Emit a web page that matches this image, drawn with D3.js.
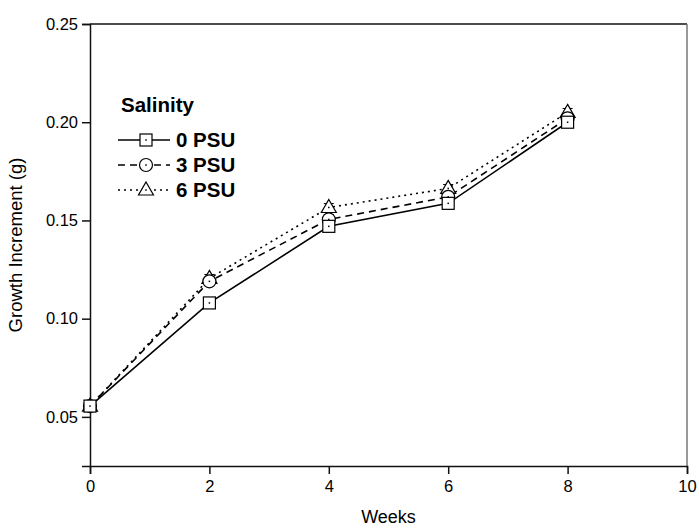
<!DOCTYPE html>
<html><head><meta charset="utf-8">
<script src="https://cdn.jsdelivr.net/npm/d3@7"></script>
<style>body{margin:0;background:#fff}svg{display:block}text{font-family:"Liberation Sans",Arial,sans-serif}</style>
</head><body><svg id="c" width="699" height="528"></svg>
<script>
const weeks = [0, 2, 4, 6, 8];
const psu0 = [0.0555, 0.108, 0.147, 0.1587, 0.200];
const psu3 = [0.0555, 0.119, 0.1505, 0.162, 0.202];
const psu6 = [0.0555, 0.1205, 0.1566, 0.1663, 0.205];
const err0 = [0.001, 0.001, 0.0015, 0.0015, 0.0015];
const err3 = [0.001, 0.002, 0.0025, 0.002, 0.002];
const err6 = [0.001, 0.002, 0.002, 0.002, 0.002];
const seriesNames = ["0 PSU", "3 PSU", "6 PSU"];
const xTicks = [0, 2, 4, 6, 8, 10];
const yTicks = [0.05, 0.10, 0.15, 0.20, 0.25];

const svg = d3.select("#c");
const L = 90, R = 687, T = 24, B = 466;
const x = d3.scaleLinear().domain([0, 10]).range([L, R]);
const y = d3.scaleLinear().domain([0.025, 0.25]).range([B, T]);

// frame
svg.append("line").attr("x1", L).attr("x2", R).attr("y1", T).attr("y2", T).attr("stroke", "#111").attr("stroke-width", 1.5);
svg.append("line").attr("x1", R).attr("x2", R).attr("y1", T).attr("y2", B).attr("stroke", "#777").attr("stroke-width", 1.5);

// x axis
const gx = svg.append("g").attr("transform", `translate(0,${B})`);
gx.call(d3.axisBottom(x).tickValues(d3.range(0, 10.01, 1)).tickSize(5).tickFormat(""));
gx.call(d3.axisBottom(x).tickValues(xTicks).tickSize(8).tickPadding(6).tickFormat(d3.format("d")));
gx.selectAll("path.domain").attr("stroke", "#111").attr("stroke-width", 1.5);
gx.selectAll("line").attr("stroke", "#111").attr("stroke-width", 1.5);
gx.attr("font-size", 16.5).attr("font-family", null);
gx.selectAll("text").attr("font-size", 16.5).attr("fill", "#000");

// y axis
const gy = svg.append("g").attr("transform", `translate(${L},0)`);
gy.call(d3.axisLeft(y).tickValues(d3.range(0.025, 0.2501, 0.025)).tickSize(4).tickFormat(""));
gy.call(d3.axisLeft(y).tickValues(yTicks).tickSize(8).tickPadding(4).tickFormat(d3.format(".2f")));
gy.selectAll("path.domain").attr("stroke", "#111").attr("stroke-width", 1.5);
gy.selectAll("line").attr("stroke", "#111").attr("stroke-width", 1.5);
gy.attr("font-size", 16.5).attr("font-family", null);
gy.selectAll("text").attr("font-size", 16.5).attr("fill", "#000");

svg.append("text").attr("x", (L + R) / 2).attr("y", 523).attr("text-anchor", "middle").attr("font-size", 18).text("Weeks");
svg.append("text").attr("transform", `translate(22,${(T + B) / 2}) rotate(-90)`).attr("text-anchor", "middle").attr("font-size", 18.5).text("Growth Increment (g)");

const series = [
  {vals: psu0, err: err0, dash: null, shape: "square"},
  {vals: psu3, err: err3, dash: "7,5", shape: "circle"},
  {vals: psu6, err: err6, dash: "2,4", shape: "triangle"}
];

const line = d3.line().x((d, i) => x(weeks[i])).y(d => y(d));

function marker(g, shape, cx, cy) {
  if (shape === "square") {
    g.append("rect").attr("x", cx - 6).attr("y", cy - 6).attr("width", 12).attr("height", 12).attr("fill", "#fff").attr("stroke", "#000").attr("stroke-width", 1.2);
  } else if (shape === "circle") {
    g.append("circle").attr("cx", cx).attr("cy", cy).attr("r", 6.5).attr("fill", "#fff").attr("stroke", "#000").attr("stroke-width", 1.2);
  } else {
    g.append("path").attr("d", `M${cx},${cy - 8}L${cx + 7.5},${cy + 5}L${cx - 7.5},${cy + 5}Z`).attr("fill", "#fff").attr("stroke", "#000").attr("stroke-width", 1.2);
  }
  g.append("rect").attr("x", cx - 0.75).attr("y", cy - 0.75).attr("width", 1.5).attr("height", 1.5).attr("fill", "#000");
}

series.forEach(s => {
  svg.append("path").datum(s.vals).attr("d", line).attr("fill", "none").attr("stroke", "#000").attr("stroke-width", 1.6).attr("stroke-dasharray", s.dash);
});
series.forEach(s => {
  const g = svg.append("g");
  s.vals.forEach((v, i) => {
    const cx = x(weeks[i]);
    g.append("line").attr("x1", cx).attr("x2", cx).attr("y1", y(v - s.err[i])).attr("y2", y(v + s.err[i])).attr("stroke", "#000").attr("stroke-width", 1);
    [v - s.err[i], v + s.err[i]].forEach(e => g.append("line").attr("x1", cx - 5).attr("x2", cx + 5).attr("y1", y(e)).attr("y2", y(e)).attr("stroke", "#000").attr("stroke-width", 1));
  });
});
[2, 1, 0].forEach(k => {
  const s = series[k];
  const g = svg.append("g");
  s.vals.forEach((v, i) => marker(g, s.shape, x(weeks[i]), y(v)));
});

// legend
svg.append("text").attr("x", 121).attr("y", 112).attr("font-size", 20.5).attr("font-weight", "bold").text("Salinity");
series.forEach((s, k) => {
  const ly = 140 + k * 25;
  const g = svg.append("g");
  g.append("line").attr("x1", 118).attr("x2", 170).attr("y1", ly).attr("y2", ly).attr("stroke", "#000").attr("stroke-width", 1.6).attr("stroke-dasharray", s.dash);
  marker(g, s.shape, 146, ly);
  g.append("text").attr("x", 176).attr("y", ly + 7).attr("font-size", 20.5).attr("font-weight", "bold").text(seriesNames[k]);
});
</script></body></html>
